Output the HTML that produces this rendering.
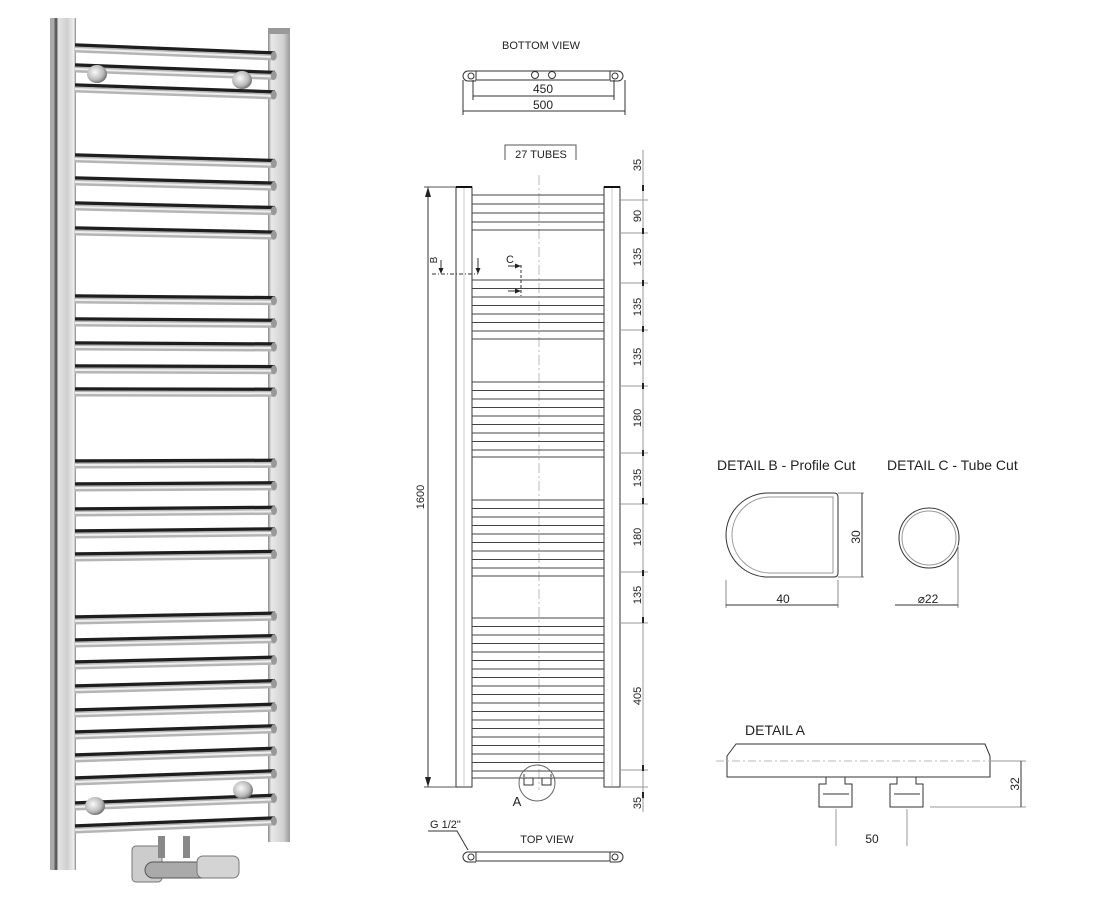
<!DOCTYPE html>
<html><head><meta charset="utf-8"><style>
html,body{margin:0;padding:0;background:#fff}
svg{display:block}
text{font-family:"Liberation Sans",sans-serif;fill:#222}
</style></head><body>
<svg width="1112" height="920" viewBox="0 0 1112 920" xmlns="http://www.w3.org/2000/svg">
<defs>
<linearGradient id="rail" x1="0" x2="1" y1="0" y2="0">
<stop offset="0" stop-color="#999"/><stop offset="0.1" stop-color="#444"/><stop offset="0.2" stop-color="#e4e4e4"/><stop offset="0.6" stop-color="#cfcfcf"/><stop offset="0.9" stop-color="#eee"/><stop offset="1" stop-color="#888"/>
</linearGradient>
<linearGradient id="rail2" x1="0" x2="1" y1="0" y2="0">
<stop offset="0" stop-color="#888"/><stop offset="0.15" stop-color="#e8e8e8"/><stop offset="0.7" stop-color="#d0d0d0"/><stop offset="1" stop-color="#999"/>
</linearGradient>
<radialGradient id="br" cx="0.4" cy="0.4" r="0.7">
<stop offset="0" stop-color="#fafafa"/><stop offset="0.6" stop-color="#bbb"/><stop offset="1" stop-color="#555"/>
</radialGradient>
<g id="t">
<line x1="75" y1="0" x2="275" y2="0" stroke="#1e1e1e" stroke-width="3.5"/>
<line x1="75" y1="4.5" x2="275" y2="4.5" stroke="#b5b5b5" stroke-width="6"/>
<line x1="75" y1="4" x2="275" y2="4" stroke="#eee" stroke-width="2"/>
<ellipse cx="274" cy="3" rx="3" ry="4.5" fill="#999"/>
</g>
</defs>

<!-- PHOTO -->
<rect x="50" y="18" width="6" height="852" fill="#aaa"/>
<rect x="54" y="18" width="22" height="852" fill="url(#rail)"/>
<rect x="268" y="30" width="22" height="812" fill="url(#rail2)"/>
<rect x="268" y="28" width="22" height="6" fill="#999"/>
<use href="#t" transform="translate(0,45) rotate(2.3,75,0)"/>
<use href="#t" transform="translate(0,65) rotate(2.15,75,0)"/>
<use href="#t" transform="translate(0,85) rotate(2.0,75,0)"/>
<use href="#t" transform="translate(0,155) rotate(1.6,75,0)"/>
<use href="#t" transform="translate(0,178) rotate(1.5,75,0)"/>
<use href="#t" transform="translate(0,203) rotate(1.34,75,0)"/>
<use href="#t" transform="translate(0,228) rotate(1.2,75,0)"/>
<use href="#t" transform="translate(0,296) rotate(0.5,75,0)"/>
<use href="#t" transform="translate(0,319) rotate(0.4,75,0)"/>
<use href="#t" transform="translate(0,343) rotate(0.3,75,0)"/>
<use href="#t" transform="translate(0,366) rotate(0.2,75,0)"/>
<use href="#t" transform="translate(0,389) rotate(0.1,75,0)"/>
<use href="#t" transform="translate(0,461) rotate(-0.18,75,0)"/>
<use href="#t" transform="translate(0,484) rotate(-0.31,75,0)"/>
<use href="#t" transform="translate(0,509) rotate(-0.46,75,0)"/>
<use href="#t" transform="translate(0,531) rotate(-0.59,75,0)"/>
<use href="#t" transform="translate(0,554) rotate(-0.73,75,0)"/>
<use href="#t" transform="translate(0,617) rotate(-1.09,75,0)"/>
<use href="#t" transform="translate(0,640) rotate(-1.23,75,0)"/>
<use href="#t" transform="translate(0,662) rotate(-1.36,75,0)"/>
<use href="#t" transform="translate(0,686) rotate(-1.5,75,0)"/>
<use href="#t" transform="translate(0,710) rotate(-1.64,75,0)"/>
<use href="#t" transform="translate(0,732) rotate(-1.77,75,0)"/>
<use href="#t" transform="translate(0,755) rotate(-1.9,75,0)"/>
<use href="#t" transform="translate(0,778) rotate(-2.03,75,0)"/>
<use href="#t" transform="translate(0,803) rotate(-2.18,75,0)"/>
<use href="#t" transform="translate(0,826) rotate(-2.3,75,0)"/>
<!-- brackets -->
<ellipse cx="97" cy="74" rx="10" ry="9" fill="url(#br)"/>
<ellipse cx="242" cy="80" rx="10" ry="9" fill="url(#br)"/>
<ellipse cx="95" cy="806" rx="10" ry="9" fill="url(#br)"/>
<ellipse cx="243" cy="790" rx="10" ry="9" fill="url(#br)"/>
<!-- valve -->
<rect x="132" y="846" width="30" height="36" rx="4" fill="#ccc" stroke="#777"/>
<rect x="145" y="862" width="90" height="16" rx="8" fill="#aaa" stroke="#555"/>
<rect x="197" y="856" width="42" height="22" rx="6" fill="#d4d4d4" stroke="#777"/>
<rect x="158" y="836" width="7" height="22" fill="#888"/>
<rect x="183" y="836" width="7" height="22" fill="#888"/>

<!-- BOTTOM VIEW -->
<text x="541" y="49" font-size="11" text-anchor="middle">BOTTOM VIEW</text>
<g fill="none" stroke="#333" stroke-width="1">
<rect x="476" y="71" width="134" height="9"/>
<path d="M476 71 h-8 a5 5 0 0 0 0 10 h8"/>
<path d="M610 71 h8 a5 5 0 0 1 0 10 h-8"/>
<circle cx="471" cy="76" r="3"/><circle cx="615" cy="76" r="3"/>
<circle cx="535" cy="75" r="3.5"/><circle cx="552" cy="75" r="3.5"/>
<line x1="473" y1="96" x2="614" y2="96"/>
<line x1="463" y1="111" x2="625" y2="111"/>
<line x1="463" y1="80" x2="463" y2="115"/><line x1="625" y1="80" x2="625" y2="115"/>
<line x1="473" y1="80" x2="473" y2="100"/><line x1="614" y1="80" x2="614" y2="100"/>
</g>
<text x="543" y="93" font-size="12" text-anchor="middle">450</text>
<text x="543" y="109" font-size="12" text-anchor="middle">500</text>

<!-- FRONT VIEW -->
<g fill="none" stroke="#555" stroke-width="1">
<path d="M505 160 V145 H576 V160"/>
<line x1="539" y1="175" x2="539" y2="790" stroke="#bbb" stroke-dasharray="10 3 2 3"/>
<rect x="456" y="187" width="16" height="600" stroke="#333"/>
<rect x="604" y="187" width="16" height="600" stroke="#333"/>
<line x1="464" y1="188" x2="464" y2="786" stroke="#ccc"/>
<line x1="612" y1="188" x2="612" y2="786" stroke="#ccc"/>
<line x1="456" y1="187" x2="472" y2="187" stroke="#111" stroke-width="2"/>
<line x1="604" y1="187" x2="620" y2="187" stroke="#111" stroke-width="2"/>
<path stroke="#444" d="M472 195H604M472 204H604M472 213H604M472 222H604M472 230H604
M472 280H604M472 288.5H604M472 297H604M472 305.5H604M472 314H604M472 322.5H604M472 331H604M472 339H604
M472 382H604M472 390.5H604M472 399H604M472 407.5H604M472 416H604M472 424.5H604M472 433H604M472 441.5H604M472 450H604M472 457H604
M472 500H604M472 508.5H604M472 517H604M472 525.5H604M472 534H604M472 542.5H604M472 551H604M472 559.5H604M472 568H604M472 576H604
M472 618H604M472 626.5H604M472 635H604M472 643.5H604M472 652H604M472 660.5H604M472 669H604M472 677.5H604M472 686H604M472 694.5H604M472 703H604M472 711.5H604M472 720H604M472 728.5H604M472 737H604M472 745.5H604M472 754H604M472 762.5H604M472 771H604M472 778H604"/>
<line x1="428" y1="187" x2="428" y2="787" stroke="#333"/>
<line x1="424" y1="187" x2="456" y2="187"/><line x1="424" y1="787" x2="456" y2="787"/>
<line x1="432" y1="274" x2="478" y2="274" stroke="#333" stroke-dasharray="4 2 1 2"/>
<line x1="441" y1="260" x2="441" y2="272" stroke="#333"/>
<line x1="478" y1="258" x2="478" y2="272" stroke="#333"/>
<line x1="521" y1="265" x2="521" y2="296" stroke="#333" stroke-dasharray="3 2"/>
<line x1="508" y1="266" x2="519" y2="266" stroke="#333"/>
<line x1="508" y1="291" x2="519" y2="291" stroke="#333"/>
<circle cx="537" cy="783" r="18" stroke="#666"/>
<rect x="524" y="778" width="9" height="7" stroke="#333"/><rect x="542" y="778" width="9" height="7" stroke="#333"/>
<path d="M524 777 v-3 M551 777 v-3" stroke="#333"/>
<line x1="643" y1="150" x2="643" y2="812" stroke="#999"/>
<path stroke="#999" d="M620 200H648M620 233H648M620 283H648M620 330H648M620 386H648M620 453H648M620 504H648M620 572H648M620 623H648M620 770H648M620 787H648"/>
</g>
<g fill="#222">
<path d="M428 187 l-3 10 h6z M428 787 l-3 -10 h6z"/>
<path d="M441 274 l-2.5 -6 h5z M478 274 l-2.5 -6 h5z"/>
<path d="M521 266 l-6 -2.5 v5z M521 291 l-6 -2.5 v5z"/>
<path d="M642 185h2v6h-2zM642 228h2v6h-2zM642 280h2v6h-2zM642 326h2v6h-2zM642 383h2v6h-2zM642 450h2v6h-2zM642 498h2v6h-2zM642 570h2v6h-2zM642 617h2v6h-2zM642 765h2v6h-2zM642 792h2v6h-2z"/>
</g>
<text x="541" y="158" font-size="11" text-anchor="middle">27 TUBES</text>
<text x="424" y="497" font-size="11" text-anchor="middle" transform="rotate(-90 424 497)">1600</text>
<text x="437" y="260" font-size="10" text-anchor="middle" transform="rotate(-90 437 260)">B</text>
<text x="510" y="263" font-size="11" text-anchor="middle">C</text>
<text x="517" y="806" font-size="13" text-anchor="middle">A</text>
<g font-size="11" text-anchor="middle">
<text transform="translate(641,165) rotate(-90)">35</text>
<text transform="translate(641,216) rotate(-90)">90</text>
<text transform="translate(641,257) rotate(-90)">135</text>
<text transform="translate(641,307) rotate(-90)">135</text>
<text transform="translate(641,357) rotate(-90)">135</text>
<text transform="translate(641,418) rotate(-90)">180</text>
<text transform="translate(641,478) rotate(-90)">135</text>
<text transform="translate(641,537) rotate(-90)">180</text>
<text transform="translate(641,595) rotate(-90)">135</text>
<text transform="translate(641,696) rotate(-90)">405</text>
<text transform="translate(641,803) rotate(-90)">35</text>
</g>

<!-- TOP VIEW -->
<text x="430" y="828" font-size="11">G 1/2"</text>
<text x="547" y="843" font-size="11" text-anchor="middle">TOP VIEW</text>
<g fill="none" stroke="#333">
<path d="M428 831 H457 L468 850"/>
<rect x="476" y="852" width="134" height="9"/>
<path d="M476 852 h-8 a5 5 0 0 0 0 10 h8"/>
<path d="M610 852 h8 a5 5 0 0 1 0 10 h-8"/>
<circle cx="471" cy="857" r="3"/><circle cx="615" cy="857" r="3"/>
</g>

<!-- DETAIL B -->
<text x="717" y="470" font-size="14">DETAIL B - Profile Cut</text>
<text x="887" y="470" font-size="14">DETAIL C - Tube Cut</text>
<g fill="none" stroke="#333">
<path d="M768 493 H834 q4 0 4 4 V573 q0 4 -4 4 H768 a42 42 0 0 1 0 -84z"/>
<path d="M770 497 H833 V573 H770 a38 38 0 0 1 0 -76z" stroke="#999"/>
<line x1="838" y1="493" x2="864" y2="493" stroke="#888"/>
<line x1="838" y1="577" x2="864" y2="577" stroke="#888"/>
<line x1="862" y1="493" x2="862" y2="577"/>
<line x1="726" y1="580" x2="726" y2="608" stroke="#888"/>
<line x1="838" y1="580" x2="838" y2="608" stroke="#888"/>
<line x1="726" y1="605" x2="838" y2="605"/>
<circle cx="929" cy="538" r="30"/>
<circle cx="929" cy="538" r="27" stroke="#999"/>
<line x1="958" y1="545" x2="958" y2="608" stroke="#888"/>
<line x1="895" y1="605" x2="958" y2="605"/>
</g>
<text transform="translate(860,537) rotate(-90)" font-size="12" text-anchor="middle">30</text>
<text x="783" y="603" font-size="12" text-anchor="middle">40</text>
<text x="928" y="603" font-size="12" text-anchor="middle">⌀22</text>

<!-- DETAIL A -->
<text x="745" y="735" font-size="14">DETAIL  A</text>
<g fill="none" stroke="#333">
<path d="M736 744 H985 L990 756 V777 H727 V756z"/>
<line x1="716" y1="761" x2="995" y2="761" stroke="#bbb" stroke-dasharray="8 3 2 3"/>
<path d="M826 777 v7 h-7 v23 h33 v-23 h-7 v-7"/>
<path d="M897 777 v7 h-7 v23 h33 v-23 h-7 v-7"/>
<path d="M823 794 h26 M894 794 h26"/>
<line x1="836" y1="809" x2="836" y2="846" stroke="#999"/>
<line x1="907" y1="809" x2="907" y2="846" stroke="#999"/>
<line x1="990" y1="761" x2="1026" y2="761" stroke="#999"/>
<line x1="930" y1="807" x2="1026" y2="807" stroke="#999"/>
<line x1="1021" y1="761" x2="1021" y2="807"/>
</g>
<text transform="translate(1019,784) rotate(-90)" font-size="12" text-anchor="middle">32</text>
<text x="872" y="843" font-size="12" text-anchor="middle">50</text>
</svg>
</body></html>
